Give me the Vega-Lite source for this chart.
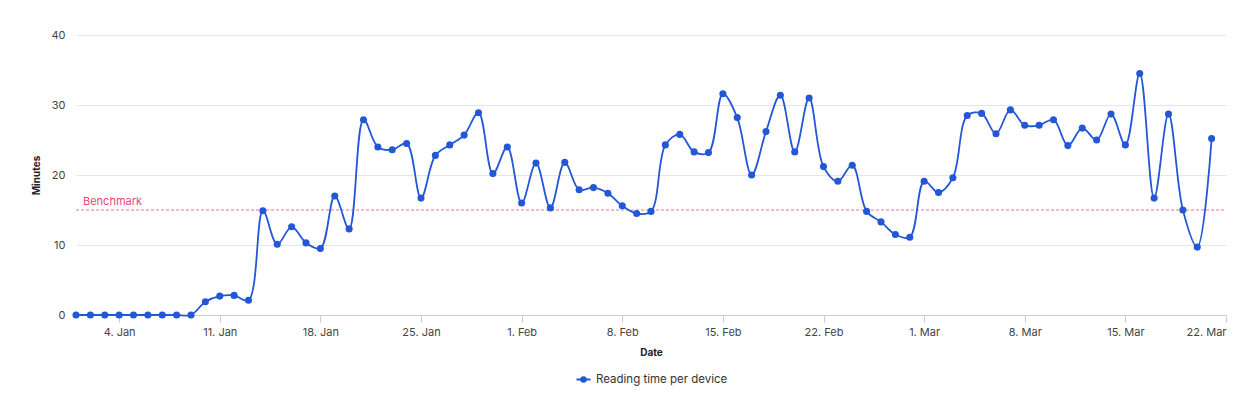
{
  "$schema": "https://vega.github.io/schema/vega-lite/v6.json",
  "autosize": {"type": "none"},
  "width": 1150,
  "height": 280,
  "padding": {"left": 76, "top": 35, "right": 24, "bottom": 105},
  "background": "white",
  "config": {
    "font": "Inter",
    "view": {"stroke": null},
    "legend": {"layout": {"bottom": {"anchor": "middle"}}},
    "axisX": {
      "grid": false,
      "domainColor": "#cccccc",
      "tickColor": "#cccccc",
      "tickSize": 7,
      "labelPadding": 4,
      "labelFontSize": 11,
      "labelColor": "#444444",
      "labelFlush": true,
      "titleFontSize": 10,
      "titleFontWeight": "bold",
      "titleColor": "#222222",
      "titlePadding": 10
    },
    "axisY": {
      "domain": false,
      "ticks": false,
      "gridColor": "#e6e6e6",
      "labelPadding": 11,
      "labelFontSize": 11,
      "labelColor": "#444444",
      "titleFontSize": 10,
      "titleFontWeight": "bold",
      "titleColor": "#222222",
      "titlePadding": 9
    }
  },
  "datasets": {
    "reading": [
      {"date": "2021-01-01", "minutes": 0},
      {"date": "2021-01-02", "minutes": 0},
      {"date": "2021-01-03", "minutes": 0},
      {"date": "2021-01-04", "minutes": 0},
      {"date": "2021-01-05", "minutes": 0},
      {"date": "2021-01-06", "minutes": 0},
      {"date": "2021-01-07", "minutes": 0},
      {"date": "2021-01-08", "minutes": 0},
      {"date": "2021-01-09", "minutes": 0},
      {"date": "2021-01-10", "minutes": 1.9},
      {"date": "2021-01-11", "minutes": 2.7},
      {"date": "2021-01-12", "minutes": 2.8},
      {"date": "2021-01-13", "minutes": 2.1},
      {"date": "2021-01-14", "minutes": 14.9},
      {"date": "2021-01-15", "minutes": 10.1},
      {"date": "2021-01-16", "minutes": 12.6},
      {"date": "2021-01-17", "minutes": 10.3},
      {"date": "2021-01-18", "minutes": 9.5},
      {"date": "2021-01-19", "minutes": 17.0},
      {"date": "2021-01-20", "minutes": 12.3},
      {"date": "2021-01-21", "minutes": 27.9},
      {"date": "2021-01-22", "minutes": 24.0},
      {"date": "2021-01-23", "minutes": 23.6},
      {"date": "2021-01-24", "minutes": 24.5},
      {"date": "2021-01-25", "minutes": 16.7},
      {"date": "2021-01-26", "minutes": 22.8},
      {"date": "2021-01-27", "minutes": 24.3},
      {"date": "2021-01-28", "minutes": 25.7},
      {"date": "2021-01-29", "minutes": 28.9},
      {"date": "2021-01-30", "minutes": 20.2},
      {"date": "2021-01-31", "minutes": 24.0},
      {"date": "2021-02-01", "minutes": 16.0},
      {"date": "2021-02-02", "minutes": 21.7},
      {"date": "2021-02-03", "minutes": 15.3},
      {"date": "2021-02-04", "minutes": 21.8},
      {"date": "2021-02-05", "minutes": 17.9},
      {"date": "2021-02-06", "minutes": 18.2},
      {"date": "2021-02-07", "minutes": 17.4},
      {"date": "2021-02-08", "minutes": 15.6},
      {"date": "2021-02-09", "minutes": 14.5},
      {"date": "2021-02-10", "minutes": 14.8},
      {"date": "2021-02-11", "minutes": 24.3},
      {"date": "2021-02-12", "minutes": 25.8},
      {"date": "2021-02-13", "minutes": 23.3},
      {"date": "2021-02-14", "minutes": 23.2},
      {"date": "2021-02-15", "minutes": 31.6},
      {"date": "2021-02-16", "minutes": 28.2},
      {"date": "2021-02-17", "minutes": 20.0},
      {"date": "2021-02-18", "minutes": 26.2},
      {"date": "2021-02-19", "minutes": 31.4},
      {"date": "2021-02-20", "minutes": 23.3},
      {"date": "2021-02-21", "minutes": 31.0},
      {"date": "2021-02-22", "minutes": 21.2},
      {"date": "2021-02-23", "minutes": 19.1},
      {"date": "2021-02-24", "minutes": 21.4},
      {"date": "2021-02-25", "minutes": 14.8},
      {"date": "2021-02-26", "minutes": 13.3},
      {"date": "2021-02-27", "minutes": 11.5},
      {"date": "2021-02-28", "minutes": 11.1},
      {"date": "2021-03-01", "minutes": 19.1},
      {"date": "2021-03-02", "minutes": 17.5},
      {"date": "2021-03-03", "minutes": 19.6},
      {"date": "2021-03-04", "minutes": 28.5},
      {"date": "2021-03-05", "minutes": 28.8},
      {"date": "2021-03-06", "minutes": 25.9},
      {"date": "2021-03-07", "minutes": 29.3},
      {"date": "2021-03-08", "minutes": 27.1},
      {"date": "2021-03-09", "minutes": 27.1},
      {"date": "2021-03-10", "minutes": 27.9},
      {"date": "2021-03-11", "minutes": 24.2},
      {"date": "2021-03-12", "minutes": 26.7},
      {"date": "2021-03-13", "minutes": 25.0},
      {"date": "2021-03-14", "minutes": 28.7},
      {"date": "2021-03-15", "minutes": 24.3},
      {"date": "2021-03-16", "minutes": 34.5},
      {"date": "2021-03-17", "minutes": 16.7},
      {"date": "2021-03-18", "minutes": 28.7},
      {"date": "2021-03-19", "minutes": 15.0},
      {"date": "2021-03-20", "minutes": 9.7},
      {"date": "2021-03-21", "minutes": 25.2}
    ],
    "benchmark": [
      {"date": "2021-01-01", "end": "2021-03-22", "minutes": 15, "label": "Benchmark"}
    ]
  },
  "encoding": {
    "x": {
      "field": "date",
      "type": "temporal",
      "title": "Date",
      "scale": {
        "type": "utc",
        "domain": [
          {"year": 2021, "month": 1, "date": 1, "utc": true},
          {"year": 2021, "month": 3, "date": 22, "utc": true}
        ]
      },
      "axis": {
        "values": [
          {"year": 2021, "month": 1, "date": 4, "utc": true},
          {"year": 2021, "month": 1, "date": 11, "utc": true},
          {"year": 2021, "month": 1, "date": 18, "utc": true},
          {"year": 2021, "month": 1, "date": 25, "utc": true},
          {"year": 2021, "month": 2, "date": 1, "utc": true},
          {"year": 2021, "month": 2, "date": 8, "utc": true},
          {"year": 2021, "month": 2, "date": 15, "utc": true},
          {"year": 2021, "month": 2, "date": 22, "utc": true},
          {"year": 2021, "month": 3, "date": 1, "utc": true},
          {"year": 2021, "month": 3, "date": 8, "utc": true},
          {"year": 2021, "month": 3, "date": 15, "utc": true},
          {"year": 2021, "month": 3, "date": 22, "utc": true}
        ],
        "labelExpr": "utcFormat(datum.value, '%-d. %b')"
      }
    },
    "y": {
      "field": "minutes",
      "type": "quantitative",
      "title": "Minutes",
      "scale": {"domain": [0, 40], "nice": false},
      "axis": {"values": [0, 10, 20, 30, 40]}
    }
  },
  "layer": [
    {
      "data": {"name": "benchmark"},
      "mark": {"type": "rule", "color": "#f4a3bc", "strokeWidth": 1.3, "strokeDash": [3, 2]},
      "encoding": {
        "x2": {"field": "end"}
      }
    },
    {
      "data": {"name": "benchmark"},
      "mark": {"type": "text", "align": "left", "baseline": "middle", "dx": 7, "dy": -8, "fontSize": 11, "color": "#e8457c"},
      "encoding": {
        "text": {"field": "label"}
      }
    },
    {
      "data": {"name": "reading"},
      "mark": {"type": "line", "interpolate": "catmull-rom", "strokeWidth": 1.8},
      "encoding": {
        "color": {"datum": "Reading time per device"}
      }
    },
    {
      "data": {"name": "reading"},
      "mark": {"type": "point", "filled": true, "opacity": 1, "size": 50},
      "encoding": {
        "color": {
          "datum": "Reading time per device",
          "scale": {"range": ["#2457d6"]},
          "legend": {
            "title": null,
            "orient": "bottom",
            "offset": 14,
            "symbolType": "M -1 0 L 1 0 M 0.32 0 A 0.32 0.32 0 1 1 -0.32 0 A 0.32 0.32 0 1 1 0.32 0",
            "symbolSize": 200,
            "symbolStrokeWidth": 2,
            "symbolFillColor": "#2457d6",
            "symbolStrokeColor": "#2457d6",
            "labelFontSize": 11.5,
            "labelColor": "#333333"
          }
        }
      }
    }
  ]
}
